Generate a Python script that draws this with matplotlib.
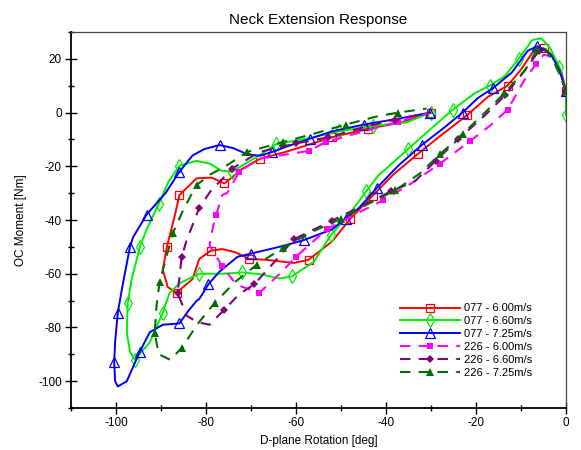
import matplotlib
matplotlib.use("Agg")
import matplotlib.pyplot as plt
from matplotlib.ticker import MultipleLocator

plt.rcParams['font.family'] = ['Liberation Sans', 'DejaVu Sans']
plt.rcParams['axes.unicode_minus'] = False

# --- data (deg, Nm) ---
red_x = [0, -1, -3, -5, -7, -10, -13, -17.4, -22, -27.8, -33, -38.4, -43, -47.9, -52,
         -57.2, -60.5, -66.7, -70.4, -73.5, -76.4, -79, -81.5, -83, -86.5, -88.5, -89.6,
         -88.7, -87, -85.9, -82.1, -78.8, -75.9, -72, -68, -62, -52, -44, -36.6, -30]
red_y = [8, 15, 21, 24, 23.5, 16, 10, 5.8, -1, -8.5, -15.5, -23.1, -31, -39.5, -48,
         -54.8, -56, -54.8, -54.5, -52, -50.8, -51.5, -54.5, -62, -67, -65, -58.5,
         -50, -38.8, -30.7, -24.5, -24.2, -26.4, -21, -17.2, -14.5, -9.2, -6, -3.7, 0]

green_x = [0, 0, -1.5, -3.5, -5.5, -7.5, -10.5, -13.7, -17, -20.3, -25.2, -30, -35.1,
           -41.7, -44.4, -48, -52.3, -56, -60.9, -63.8, -67.5, -72, -75.9, -81.5, -85.9,
           -88.1, -89.6, -92.5, -95.8, -96.9, -97.6, -97.4, -96.5, -94.7, -93.2, -90.5,
           -88.3, -85.9, -82.1, -79.2, -76.6, -74.2, -68.2, -64.5, -57, -50.5, -43, -35.5, -30]
green_y = [-1, 8, 17, 24, 27.7, 27, 20, 13.4, 10, 7.2, 1, -6, -13.6,
           -23.4, -29.3, -37.5, -45.7, -55.5, -61, -61.8, -60.3, -59.5, -60, -60, -63.6,
           -67.2, -74.5, -85.5, -92, -89, -81.8, -70.9, -62, -50, -43.5, -34,
           -25.6, -19.8, -18, -19, -21.6, -22, -16, -11.8, -9.5, -7, -5, -3.7, 0]

blue_x = [0, -1.5, -3.5, -6.4, -8.5, -12, -16.3, -19.6, -23, -27, -32, -37.3, -42, -46,
          -49, -52, -58.3, -62.5, -66.7, -70, -73, -77, -79.5, -81.5, -82.1, -84, -85.9,
          -89.6, -92.5, -94.7, -97.6, -99.6, -100.2, -100.4, -100.2, -99.6, -98.7, -96.9,
          -96.2, -93.2, -89, -85.9, -83, -80.4, -77, -74, -71, -68.2, -65.3, -62.3, -57,
          -52, -45, -37, -30.2]
blue_y = [8, 16, 22, 24.7, 23, 15, 9, 5.4, 0, -5.5, -12, -19.8, -28, -35.5,
          -39.5, -43.5, -47.5, -49.5, -51.2, -52.5, -53.7, -59.2, -64, -69.4, -70.1, -74, -78.5,
          -79, -81.8, -89, -100, -102, -100, -93, -85.5, -74.5, -65.8, -50,
          -46.4, -38, -30, -22, -16, -13.6, -12.1, -13.2, -15.4, -16.1, -14.7, -12.8, -9.8,
          -7, -4.5, -2.2, 0]

mag_x = [0, -1.5, -3.5, -5, -6.6, -9.3, -13, -17, -21.4, -28, -34.4, -40.6, -47, -53.2,
         -60, -62.7, -65.5, -68.2, -73.3, -76.5, -79.2, -78.5, -77.7, -76.4, -75.3, -72.6,
         -68.2, -65.6, -57.2, -53.4, -45, -37.3, -30]
mag_y = [8, 15, 21, 21.5, 18.2, 12, 1, -5, -10.7, -19, -26.4, -32.6, -38, -43.5,
         -53.7, -58.5, -63, -67.2, -64, -57, -49.3, -43, -38, -30.7, -30, -22,
         -17.2, -16.5, -14.3, -11, -7, -3.4, 0]

pur_x = [0, -2, -4.5, -6, -9, -13.5, -18, -24, -29, -33.6, -38.9, -45, -52, -56, -60.5,
         -65, -69.3, -72.6, -76, -79.2, -82, -84.3, -86.3, -85.8, -85.4, -84.3, -81.5, -79,
         -74.2, -68.2, -60, -52.8, -45, -38, -30]
pur_y = [8, 17, 23.5, 23, 16, 6.5, -1, -10, -18, -25.6, -29.3, -34.5, -40.2, -43.5, -47.2,
         -56, -64, -67.6, -73.5, -79, -78, -75.6, -67.2, -60, -53.7, -47.5, -35.5, -29.3,
         -20.9, -14.7, -11.5, -9.2, -5.5, -2.6, 0]

dg_x = [0, -2, -4.5, -6.4, -9, -13.7, -18, -23, -28, -32.5, -38, -44.4, -50, -56.7, -63,
        -68.7, -73.5, -78.1, -82, -85.4, -88, -90.5, -91.4, -91, -90.3, -89, -87.4, -85,
        -82.1, -79, -75.5, -70.9, -63, -56.5, -49, -42.2, -37.3, -31]
dg_y = [8, 17, 23.5, 23.6, 16, 7.2, 0, -8, -15.5, -22.7, -29, -34.4, -39.5, -44.6, -50.5,
        -56.6, -63, -70.9, -79, -87.7, -92, -90, -82, -72, -63, -55, -45, -36,
        -27, -23, -19.8, -14.7, -11, -8.1, -4.5, -1.5, 0, 1.5]

fig = plt.figure(figsize=(5.81, 4.5), dpi=100)
ax = fig.add_axes([0.1222, 0.0933, 0.852, 0.8356])

solid = dict(lw=1.4, mfc='none', mew=0.9, markevery=0.085)
dash = dict(lw=1.5, dashes=(5, 4), mew=0, markevery=0.085)

ax.plot(red_x, red_y, color='#ff0000', marker='s', ms=5.5, label='077 - 6.00m/s', **solid)
ax.plot(green_x, green_y, color='#00ee00', marker='d', ms=7, label='077 - 6.60m/s', **solid)
ax.plot(blue_x, blue_y, color='#0000ff', marker='^', ms=7, label='077 - 7.25m/s', **solid)
ax.plot(mag_x, mag_y, color='#ff00ff', marker='s', ms=4, label='226 - 6.00m/s', **dash)
ax.plot(pur_x, pur_y, color='#800080', marker='D', ms=4.5, label='226 - 6.60m/s', **dash)
ax.plot(dg_x, dg_y, color='#006f00', marker='^', ms=6, label='226 - 7.25m/s', **dash)

ax.set_xlim(-110, 0)
ax.set_ylim(-110, 30)
ax.xaxis.set_major_locator(MultipleLocator(20))
ax.xaxis.set_minor_locator(MultipleLocator(10))
ax.yaxis.set_major_locator(MultipleLocator(20))
ax.yaxis.set_minor_locator(MultipleLocator(10))
ax.tick_params(which='major', direction='inout', length=9, width=1, labelsize=8.5, pad=2)
ax.tick_params(which='minor', direction='inout', length=5, width=1)

for s in ['left', 'bottom']:
    ax.spines[s].set_linewidth(1.3)
for s in ['top', 'right']:
    ax.spines[s].set_linewidth(0.9)
    ax.spines[s].set_color('#444444')

ax.set_title('Neck Extension Response', fontsize=11, pad=6)
ax.set_xlabel('D-plane Rotation [deg]', fontsize=8.5, labelpad=4)
ax.set_ylabel('OC Moment [Nm]', fontsize=8.5, labelpad=8)

ax.legend(loc='upper left', bbox_to_anchor=(0.665, 0.278), frameon=False, fontsize=8,
          borderpad=0, borderaxespad=0, handlelength=5.4, handletextpad=0.3,
          labelspacing=0.26)

fig.savefig('out.png', dpi=100)
